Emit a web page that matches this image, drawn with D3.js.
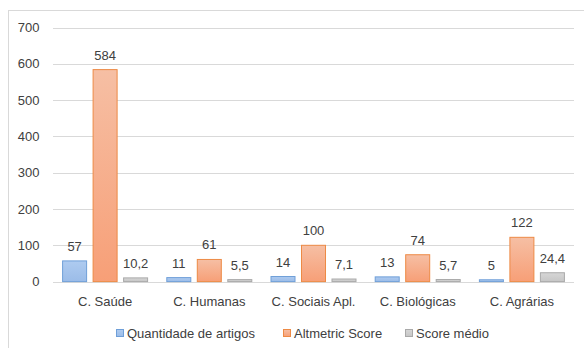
<!DOCTYPE html>
<html>
<head>
<meta charset="utf-8">
<script src="https://cdn.jsdelivr.net/npm/d3@7"></script>
<style>
  html, body { margin: 0; padding: 0; background: #fff; }
  svg { display: block; font-family: "Liberation Sans", Arial, sans-serif; }
</style>
</head>
<body>
<svg id="chart" width="584" height="348"></svg>
<script>
// Categories (áreas do conhecimento)
const categories = ["C. Saúde", "C. Humanas", "C. Sociais Apl.", "C. Biológicas", "C. Agrárias"];
// Series
const seriesNames = ["Quantidade de artigos", "Altmetric Score", "Score médio"];
const quantidade = [57, 11, 14, 13, 5];
const altmetric = [584, 61, 100, 74, 122];
const scoreMedio = [10.2, 5.5, 7.1, 5.7, 24.4];
// Y axis ticks
const yTicks = [0, 100, 200, 300, 400, 500, 600, 700];

const seriesValues = [quantidade, altmetric, scoreMedio];
const fills = [
  { top: "#aecbf0", bottom: "#9bbce8", stroke: "#6f9fd8" },
  { top: "#f6bfa4", bottom: "#f79f77", stroke: "#ed8a45" },
  { top: "#d6d6d6", bottom: "#c6c6c6", stroke: "#a9a9a9" }
];

const svg = d3.select("#chart");
const defs = svg.append("defs");
fills.forEach((f, i) => {
  const g = defs.append("linearGradient")
    .attr("id", "grad" + i)
    .attr("x1", 0).attr("y1", 0).attr("x2", 0).attr("y2", 1);
  g.append("stop").attr("offset", "0%").attr("stop-color", f.top);
  g.append("stop").attr("offset", "100%").attr("stop-color", f.bottom);
});

// Chart frame
svg.append("rect")
  .attr("x", 8.5).attr("y", 10.5)
  .attr("width", 600).attr("height", 400)
  .attr("fill", "#fff")
  .attr("stroke", "#d9d9d9");

const plot = { left: 53, right: 574, top: 27.5, bottom: 281.6 };

const y = d3.scaleLinear().domain([0, 700]).range([plot.bottom, plot.top]);
const x0 = d3.scaleBand().domain(categories).range([plot.left, plot.right]).padding(0);
const x1 = d3.scaleBand().domain(seriesNames).range([-43, 43]).paddingInner(0.18).paddingOuter(0);

// Gridlines
svg.append("g")
  .selectAll("line")
  .data(yTicks)
  .join("line")
  .attr("x1", plot.left).attr("x2", plot.right)
  .attr("y1", d => Math.round(y(d)) + 0.5)
  .attr("y2", d => Math.round(y(d)) + 0.5)
  .attr("stroke", "#d9d9d9")
  .attr("stroke-width", 1);

// Y axis labels
const yAxis = d3.axisLeft(y).tickValues(yTicks).tickSize(0).tickPadding(0).tickFormat(d3.format("d"));
svg.append("g")
  .attr("transform", "translate(39.5,0)")
  .call(yAxis)
  .call(g => g.select(".domain").remove())
  .call(g => g.selectAll("text")
    .attr("font-size", 13)
    .attr("font-family", "Liberation Sans, Arial, sans-serif")
    .attr("fill", "#404040"));

// Bars
const fmt = v => Number.isInteger(v) ? String(v) : String(v).replace(".", ",");
const groups = svg.append("g").selectAll("g")
  .data(categories)
  .join("g")
  .attr("transform", d => `translate(${x0(d) + x0.bandwidth() / 2},0)`);

seriesNames.forEach((s, si) => {
  groups.append("rect")
    .attr("x", x1(s) + 0.5)
    .attr("y", (d, ci) => y(seriesValues[si][ci]))
    .attr("width", x1.bandwidth() - 1)
    .attr("height", (d, ci) => plot.bottom - y(seriesValues[si][ci]))
    .attr("fill", `url(#grad${si})`)
    .attr("stroke", fills[si].stroke)
    .attr("stroke-width", 1);
  groups.append("text")
    .attr("x", x1(s) + x1.bandwidth() / 2)
    .attr("y", (d, ci) => y(seriesValues[si][ci]) - 10)
    .attr("text-anchor", "middle")
    .attr("font-size", 13)
    .attr("fill", "#404040")
    .text((d, ci) => fmt(seriesValues[si][ci]));
});

// Category axis
const xAxis = d3.axisBottom(x0).tickSize(0).tickPadding(0);
svg.append("g")
  .attr("transform", `translate(0,${plot.bottom + 15})`)
  .call(xAxis)
  .call(g => g.select(".domain").remove())
  .call(g => g.selectAll("text")
    .attr("font-size", 13)
    .attr("font-family", "Liberation Sans, Arial, sans-serif")
    .attr("fill", "#404040")
    .attr("dy", "0.71em"));

// Legend
const legendX = [116, 283, 405];
const legend = svg.append("g").selectAll("g")
  .data(seriesNames)
  .join("g")
  .attr("transform", (d, i) => `translate(${legendX[i]},329)`);
legend.append("rect")
  .attr("x", 0.5).attr("y", 0.5)
  .attr("width", 7).attr("height", 7)
  .attr("fill", (d, i) => `url(#grad${i})`)
  .attr("stroke", (d, i) => fills[i].stroke);
legend.append("text")
  .attr("x", 11)
  .attr("y", 4)
  .attr("dy", "0.35em")
  .attr("font-size", 13)
  .attr("fill", "#404040")
  .text(d => d);
</script>
</body>
</html>
